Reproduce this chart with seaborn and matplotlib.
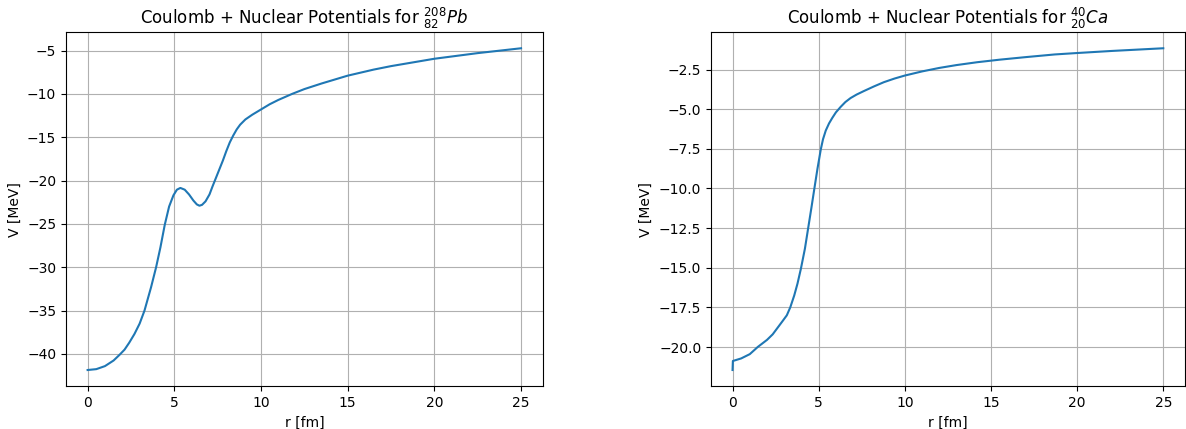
# Coulomb + nuclear potential curves for Pb-208 and Ca-40
import pandas as pd
import seaborn as sns
import matplotlib
matplotlib.use('Agg')
import matplotlib.pyplot as plt

# values
r_pb = [0, 0.5, 1.0, 1.5, 1.84, 2.13, 2.4, 2.7, 3.0, 3.28, 3.66, 3.95, 4.2,
        4.45, 4.7, 4.95, 5.15, 5.35, 5.6, 5.85, 6.1, 6.3, 6.45, 6.6, 6.8,
        7.03, 7.2, 7.4, 7.6, 7.8, 8.0, 8.2, 8.4, 8.6, 8.8, 9.1, 9.5, 10,
        10.5, 11, 11.8, 12.5, 13.5, 15, 16.5, 17.5, 20, 22.5, 25]
v_pb = [-41.85, -41.75, -41.4, -40.75, -40.1, -39.5, -38.7, -37.7, -36.5,
        -35.0, -32.3, -30.0, -27.7, -25.1, -23.0, -21.7, -21.05, -20.85,
        -21.05, -21.6, -22.3, -22.75, -22.9, -22.8, -22.4, -21.6, -20.7,
        -19.7, -18.7, -17.7, -16.6, -15.6, -14.8, -14.1, -13.55, -12.95,
        -12.4, -11.8, -11.2, -10.7, -10.0, -9.45, -8.8, -7.9, -7.2, -6.8,
        -5.95, -5.3, -4.74]

r_ca = [0, 0.02, 0.5, 1.0, 1.46, 2.0, 2.33, 2.9, 3.15, 3.35, 3.58, 3.77,
        3.97, 4.2, 4.39, 4.58, 4.75, 4.93, 5.12, 5.25, 5.41, 5.6, 5.79, 6.0,
        6.28, 6.55, 6.85, 7.2, 7.62, 8.2, 8.78, 9.4, 10, 11, 12, 13, 14.2,
        15.5, 17, 18.7, 20, 22, 25]
v_ca = [-21.45, -20.88, -20.72, -20.45, -20.0, -19.55, -19.2, -18.37, -18.0,
        -17.5, -16.75, -16.0, -15.05, -13.8, -12.5, -11.2, -10.0, -8.75,
        -7.55, -6.9, -6.35, -5.9, -5.55, -5.2, -4.85, -4.55, -4.3, -4.08,
        -3.86, -3.57, -3.3, -3.07, -2.88, -2.62, -2.4, -2.22, -2.04, -1.88,
        -1.72, -1.55, -1.46, -1.33, -1.16]

df_pb = pd.DataFrame({'r': r_pb, 'V': v_pb})
df_ca = pd.DataFrame({'r': r_ca, 'V': v_ca})

fig = plt.figure(figsize=(11.86, 4.29), dpi=100)
ax1 = fig.add_axes([0.0556, 0.1, 0.402, 0.825])
ax2 = fig.add_axes([0.5995, 0.1, 0.3995, 0.825])

sns.lineplot(data=df_pb, x='r', y='V', ax=ax1, color='#1f77b4', sort=False)
ax1.set_title(r'Coulomb + Nuclear Potentials for $^{208}_{82}Pb$')

sns.lineplot(data=df_ca, x='r', y='V', ax=ax2, color='#1f77b4', sort=False)
ax2.set_title(r'Coulomb + Nuclear Potentials for $^{40}_{20}Ca$')

for ax in (ax1, ax2):
    ax.set_xlabel('r [fm]')
    ax.set_ylabel('V [MeV]')
    ax.grid(True)

plt.savefig('out.png')
